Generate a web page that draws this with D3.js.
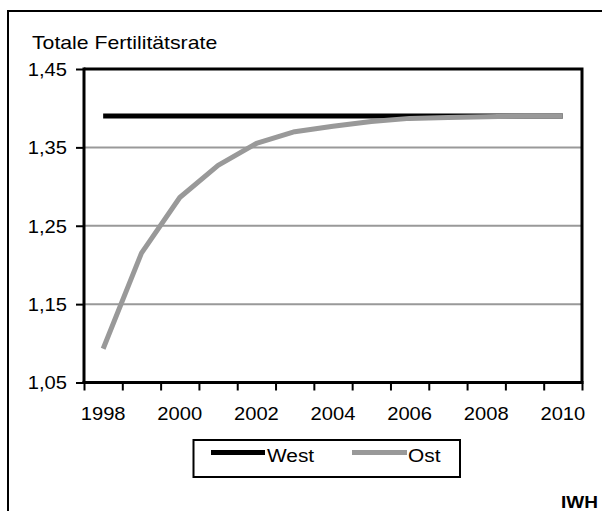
<!DOCTYPE html>
<html>
<head>
<meta charset="utf-8">
<script src="https://cdn.jsdelivr.net/npm/d3@7"></script>
<style>
  html, body { margin: 0; padding: 0; background: #fff; }
  svg { display: block; }
  text { font-family: "Liberation Sans", Arial, sans-serif; fill: #000; }
</style>
</head>
<body>
<svg id="chart" width="602" height="511"></svg>
<script>
// Total fertility rate, West vs. East Germany
const years = [1998, 1999, 2000, 2001, 2002, 2003, 2004, 2005, 2006, 2007, 2008, 2009, 2010];
const west = [1.39, 1.39, 1.39, 1.39, 1.39, 1.39, 1.39, 1.39, 1.39, 1.39, 1.39, 1.39, 1.39];
const ost  = [1.093, 1.215, 1.286, 1.327, 1.355, 1.370, 1.377, 1.383, 1.387, 1.388, 1.389, 1.390, 1.390];
const yTicks = [1.05, 1.15, 1.25, 1.35, 1.45];
const gridValues = [1.15, 1.25, 1.35];
const xLabelYears = [1998, 2000, 2002, 2004, 2006, 2008, 2010];
const seriesNames = ["West", "Ost"];
const titleText = "Totale Fertilitätsrate";
const sourceText = "IWH";

const GREY = "#999999";
const FS = 18, SX = 1.12;

const svg = d3.select("#chart");
const plot = { left: 84, top: 69, right: 582, bottom: 382.5 };

// Outer frame (open to the right and bottom)
svg.append("rect")
  .attr("x", 8).attr("y", 11).attr("width", 700).attr("height", 600)
  .attr("fill", "none").attr("stroke", "#000").attr("stroke-width", 2);

const x = d3.scaleBand().domain(years).range([plot.left, plot.right]).padding(0);
const xEdge = d3.scaleLinear().domain([0, years.length]).range([plot.left, plot.right]);
const y = d3.scaleLinear().domain([1.05, 1.45]).range([plot.bottom, plot.top]);
const de = d3.formatLocale({ decimal: ",", thousands: ".", grouping: [3], currency: ["", " €"] });
const fmt = de.format(".2f");

// Gridlines
svg.append("g").selectAll("line").data(gridValues).join("line")
  .attr("x1", plot.left).attr("x2", plot.right)
  .attr("y1", d => y(d)).attr("y2", d => y(d))
  .attr("stroke", GREY).attr("stroke-width", 2);

// Plot border (top, right)
svg.append("path")
  .attr("d", `M${plot.left},${plot.top}H${plot.right}V${plot.bottom}`)
  .attr("fill", "none").attr("stroke", "#000").attr("stroke-width", 3);

// Y axis
const yAxis = svg.append("g")
  .attr("transform", `translate(${plot.left},0)`)
  .call(d3.axisLeft(y).tickValues(yTicks).tickFormat(fmt).tickSize(8).tickPadding(9));
yAxis.select(".domain").attr("stroke-width", 3).attr("d", `M0,${plot.top - 1.5}V${plot.bottom + 1.5}`);
yAxis.selectAll(".tick line").attr("stroke-width", 2);
yAxis.selectAll(".tick text")
  .attr("font-size", FS).attr("font-family", null)
  .attr("x", null).attr("dy", "0.35em")
  .attr("transform", `translate(-17,0) scale(${SX},1)`);

// X axis: tick marks at category boundaries
const xTickAxis = svg.append("g")
  .attr("transform", `translate(0,${plot.bottom})`)
  .call(d3.axisBottom(xEdge).tickValues(d3.range(years.length + 1)).tickFormat("").tickSize(8));
xTickAxis.select(".domain").attr("stroke-width", 3).attr("d", `M${plot.left - 1.5},0H${plot.right + 1.5}`);
xTickAxis.selectAll(".tick line").attr("stroke-width", 2);

// X axis: labels at category centres
const xLabelAxis = svg.append("g")
  .attr("transform", `translate(0,${plot.bottom})`)
  .call(d3.axisBottom(x).tickValues(xLabelYears).tickSize(0));
xLabelAxis.select(".domain").remove();
xLabelAxis.selectAll(".tick text")
  .attr("font-size", FS).attr("font-family", null)
  .attr("y", 0).attr("dy", null)
  .attr("transform", `translate(0,37) scale(${SX},1)`);

// Series lines
const line = d3.line().x((d, i) => x(years[i]) + x.bandwidth() / 2).y(d => y(d));
svg.append("path").datum(west)
  .attr("d", line).attr("fill", "none").attr("stroke", "#000").attr("stroke-width", 5);
svg.append("path").datum(ost)
  .attr("d", line).attr("fill", "none").attr("stroke", GREY).attr("stroke-width", 5)
  .attr("stroke-linejoin", "round");

// Title
svg.append("text")
  .attr("transform", `translate(32,48.5) scale(1.18,1)`)
  .attr("font-size", FS).text(titleText);

// Legend
const legend = svg.append("g");
legend.append("rect")
  .attr("x", 193.5).attr("y", 440).attr("width", 266.5).attr("height", 37)
  .attr("fill", "#fff").attr("stroke", "#000").attr("stroke-width", 2);
const legendItems = [
  { name: seriesNames[0], color: "#000", x1: 211, x2: 265, tx: 267 },
  { name: seriesNames[1], color: GREY, x1: 352, x2: 407, tx: 408 }
];
legendItems.forEach(it => {
  legend.append("line")
    .attr("x1", it.x1).attr("x2", it.x2).attr("y1", 452.5).attr("y2", 452.5)
    .attr("stroke", it.color).attr("stroke-width", 5);
  legend.append("text")
    .attr("transform", `translate(${it.tx},461.5) scale(1.16,1)`)
    .attr("font-size", FS).text(it.name);
});

// Source label
svg.append("text")
  .attr("transform", `translate(598,508) scale(${SX},1)`)
  .attr("text-anchor", "end").attr("font-size", 17).attr("font-weight", "bold")
  .text(sourceText);
</script>
</body>
</html>
